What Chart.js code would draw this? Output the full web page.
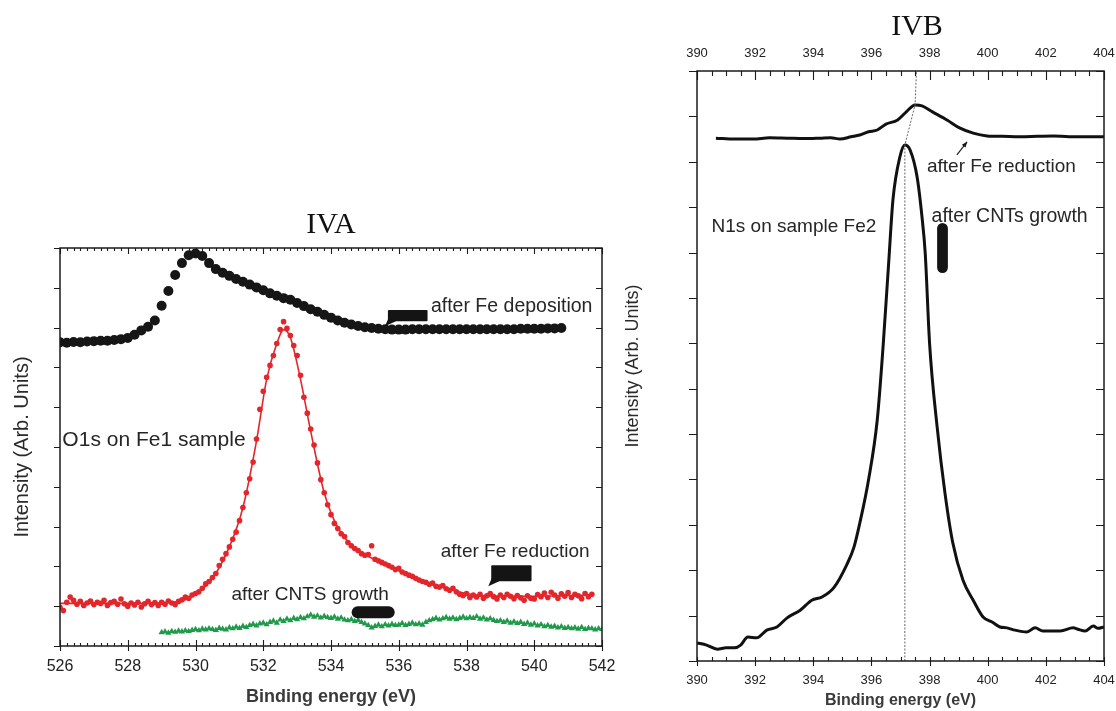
<!DOCTYPE html>
<html>
<head>
<meta charset="utf-8">
<script src="https://cdn.jsdelivr.net/npm/chart.js@4.4.1/dist/chart.umd.min.js"></script>
<style>
  html, body { margin: 0; padding: 0; background: #fff; }
  body { width: 1116px; height: 711px; position: relative; overflow: hidden; }
  .box { position: absolute; top: 0; height: 711px; }
  .ttl { position: absolute; font-family: "Liberation Serif", "Times New Roman", serif; font-size: 30px;
         color: #111; transform: translate(-50%, -50%); line-height: 1; }
</style>
</head>
<body>
<div class="box" style="left:0;width:620px"><canvas id="chartA"></canvas></div>
<div class="box" style="left:600px;width:516px"><canvas id="chartB"></canvas></div>
<div class="ttl" style="left:331px;top:223px">IVA</div>
<div class="ttl" style="left:917px;top:25px">IVB</div>
<script>
// ---------- IVA : O1s on Fe1 sample (energy grids start/step in eV) ----------
const depStart = 526.0, depStep = 0.2;
const afterFeDeposition = [
  7.63, 7.62, 7.64, 7.63, 7.65, 7.66, 7.67, 7.67, 7.69, 7.71,
  7.74, 7.82, 7.93, 8.02, 8.18, 8.55, 8.92, 9.32, 9.62, 9.82,
  9.86, 9.80, 9.62, 9.47, 9.38, 9.30, 9.22, 9.15, 9.08, 9.01,
  8.94, 8.86, 8.80, 8.74, 8.70, 8.62, 8.54, 8.46, 8.40, 8.32,
  8.25, 8.18, 8.12, 8.08, 8.04, 8.01, 7.99, 7.97, 7.96, 7.95,
  7.95, 7.95, 7.96, 7.96, 7.96, 7.96, 7.96, 7.96, 7.96, 7.96,
  7.96, 7.96, 7.96, 7.96, 7.96, 7.96, 7.96, 7.96, 7.97, 7.97,
  7.97, 7.97, 7.98, 7.98, 7.99
];

const redStart = 526.0, redStep = 0.1;
const afterFeReduction = [
  0.97, 0.89, 1.10, 1.23, 1.15, 1.05, 1.12, 1.02, 1.08, 1.13,
  1.04, 1.10, 1.07, 1.15, 1.02, 1.09, 1.12, 1.05, 1.18, 1.06,
  1.00, 1.08, 1.03, 1.10, 0.98, 1.06, 1.12, 1.04, 1.09, 1.02,
  1.10, 1.05, 1.13, 1.08, 1.04, 1.12, 1.16, 1.23, 1.20, 1.28,
  1.32, 1.36, 1.45, 1.56, 1.62, 1.72, 1.82, 2.02, 2.18, 2.32,
  2.49, 2.68, 2.86, 3.15, 3.48, 3.85, 4.20, 4.62, 5.20, 5.95,
  6.40, 6.75, 7.05, 7.30, 7.60, 7.95, 8.15, 7.98, 7.80, 7.55,
  7.30, 6.80, 6.25, 5.85, 5.45, 5.05, 4.60, 4.18, 3.85, 3.55,
  3.30, 3.08, 2.95, 2.82, 2.75, 2.60, 2.52, 2.45, 2.40, 2.32,
  2.28, 2.30, 2.52, 2.18, 2.14, 2.10, 2.06, 2.02, 1.98, 1.92,
  1.95, 1.86, 1.82, 1.78, 1.75, 1.70, 1.66, 1.62, 1.60, 1.55,
  1.58, 1.50, 1.48, 1.52, 1.44, 1.40, 1.45, 1.36, 1.30, 1.27,
  1.32, 1.22, 1.28, 1.23, 1.30, 1.20, 1.26, 1.32, 1.24, 1.18,
  1.28, 1.22, 1.30, 1.25, 1.19, 1.27, 1.21, 1.15, 1.26, 1.20,
  1.18, 1.29, 1.24, 1.33, 1.22, 1.35, 1.28, 1.20, 1.31, 1.25,
  1.34, 1.22, 1.30, 1.26, 1.19, 1.32, 1.24, 1.30
];

// fitted curve through the red points
const fitEnergy = [526.0, 528.0, 529.5, 530.0, 530.5, 531.0, 531.4, 531.8, 532.1, 532.4, 532.6, 532.8,
  533.1, 533.4, 533.8, 534.2, 534.8, 535.5, 536.5, 537.5, 538.5, 540.0, 541.7];
const fitIntensity = [1.07, 1.07, 1.12, 1.30, 1.70, 2.49, 3.48, 5.15, 6.70, 7.60, 7.95, 7.75,
  6.70, 5.40, 3.85, 2.98, 2.40, 2.10, 1.70, 1.42, 1.26, 1.25, 1.28];

const cntStart = 529.0, cntStep = 0.1;
const afterCntsGrowth = [
  0.34, 0.36, 0.33, 0.37, 0.35, 0.38, 0.36, 0.39, 0.37, 0.40,
  0.42, 0.39, 0.43, 0.41, 0.44, 0.42, 0.40, 0.45, 0.43, 0.41,
  0.46, 0.44, 0.48, 0.45, 0.50, 0.47, 0.52, 0.55, 0.51, 0.56,
  0.58, 0.54, 0.60, 0.63, 0.58, 0.66, 0.62, 0.68, 0.64, 0.70,
  0.67, 0.72, 0.69, 0.74, 0.78, 0.73, 0.76, 0.71, 0.75, 0.72,
  0.70, 0.73, 0.68, 0.71, 0.66, 0.64, 0.67, 0.62, 0.65, 0.60,
  0.56, 0.52, 0.46, 0.50, 0.53, 0.49, 0.54, 0.51, 0.55, 0.52,
  0.53, 0.57, 0.52, 0.55, 0.58, 0.54, 0.56, 0.53, 0.60, 0.64,
  0.67, 0.70, 0.66, 0.69, 0.72, 0.68, 0.71, 0.67, 0.70, 0.73,
  0.69, 0.72, 0.70, 0.74, 0.68, 0.71, 0.66, 0.69, 0.65, 0.62,
  0.64, 0.60, 0.63, 0.58, 0.61, 0.57, 0.60, 0.55, 0.58, 0.53,
  0.56, 0.51, 0.54, 0.49, 0.52, 0.48, 0.50, 0.46, 0.49, 0.45,
  0.47, 0.44, 0.46, 0.43, 0.47, 0.42, 0.45, 0.44, 0.41, 0.44,
  0.42
];

// ---------- IVB : N1s on sample Fe2 ----------
const n1sRedEnergy = [390.65, 391.3, 391.93, 392.5, 393.1, 393.7, 394.23, 394.6, 394.92, 395.3, 395.6, 395.9,
  396.2, 396.5, 396.9, 397.2, 397.5, 397.74, 398.1, 398.6, 399.05, 399.5, 399.98, 400.5, 401.1, 401.7,
  402.25, 402.8, 403.4, 404.0];
const n1sRedIntensity = [11.52, 11.50, 11.50, 11.53, 11.52, 11.51, 11.52, 11.53, 11.50, 11.55, 11.59, 11.66,
  11.70, 11.83, 11.92, 12.10, 12.25, 12.23, 12.10, 11.92, 11.74, 11.63, 11.57, 11.56, 11.55, 11.56,
  11.57, 11.55, 11.55, 11.55];

const n1sCntEnergy = [390.0, 390.33, 390.7, 391.0, 391.3, 391.5, 391.75, 392.05, 392.4, 392.75, 393.1, 393.55,
  393.95, 394.3, 394.7, 395.15, 395.4, 395.6, 395.9, 396.2, 396.4, 396.6, 396.74, 396.98, 397.15, 397.33,
  397.57, 397.74, 397.85, 398.0, 398.26, 398.53, 398.8, 399.15, 399.5, 399.84, 400.15, 400.42, 400.66,
  400.94, 401.35, 401.63, 401.9, 402.5, 402.94, 403.1, 403.35, 403.63, 403.8, 404.0];
const n1sCntIntensity = [0.40, 0.35, 0.26, 0.29, 0.29, 0.35, 0.53, 0.51, 0.68, 0.75, 0.95, 1.12,
  1.34, 1.41, 1.61, 2.12, 2.51, 3.04, 3.99, 5.31, 6.92, 8.84, 10.16, 11.11, 11.37, 11.26,
  10.67, 9.78, 8.99, 7.00, 5.16, 3.70, 2.60, 1.78, 1.34, 0.97, 0.86, 0.75, 0.73,
  0.68, 0.64, 0.73, 0.66, 0.66, 0.73, 0.70, 0.66, 0.77, 0.72, 0.75];

// guide line joining the two peak maxima
const guideEnergy = [397.15, 397.15, 397.5, 397.55];
const guideIntensity = [0, 11.37, 12.25, 13];

// ---------- annotations (text, energy, intensity, font size) ----------
const notesA = [
  ['after Fe deposition', 536.95, 8.53, 19.5],
  ['after Fe reduction', 537.24, 2.37, 19],
  ['after CNTS growth', 531.06, 1.28, 19],
  ['O1s on Fe1 sample', 526.07, 5.16, 21]
];
const notesB = [
  ['after Fe reduction', 397.91, 10.89, 19],
  ['after CNTs growth', 398.07, 9.79, 19.5],
  ['N1s on sample Fe2', 390.5, 9.57, 19]
];

const FONT = '"Liberation Sans", Arial, sans-serif';
Chart.defaults.font.family = FONT;
Chart.defaults.color = '#222';

const grid = (start, step, ys) => ys.map((y, i) => ({ x: +(start + i * step).toFixed(2), y: y }));
const pairs = (xs, ys) => xs.map((x, i) => ({ x: x, y: ys[i] }));

// fixed axis box size, no extra side padding for the end labels
const fixH = h => s => { s.height = h; s.paddingLeft = 0; s.paddingRight = 0; };
const fixW = w => s => { s.width = w; };

// frame + inward/outward ticks like the original plotting program
function frameTicks(cfg) {
  return {
    id: 'frameTicks',
    afterDraw(chart) {
      const { ctx, chartArea: a, scales: { x, y } } = chart;
      ctx.save();
      ctx.strokeStyle = '#1b1b1b';
      ctx.lineWidth = 1.5;
      ctx.strokeRect(a.left, a.top, a.right - a.left, a.bottom - a.top);
      ctx.lineWidth = 1.1;
      ctx.beginPath();
      const nx = Math.round((x.max - x.min) / cfg.xMinor);
      const per = Math.round(cfg.xMajor / cfg.xMinor);
      for (let i = 0; i <= nx; i++) {
        const px = Math.round(x.getPixelForValue(x.min + i * cfg.xMinor)) + 0.5;
        const major = i % per === 0;
        ctx.moveTo(px, a.bottom + (major ? cfg.bottomOut : 0));
        ctx.lineTo(px, a.bottom - (major ? cfg.bottomMajor : cfg.bottomMinor));
        ctx.moveTo(px, a.top);
        ctx.lineTo(px, a.top + (major ? cfg.topMajor : cfg.topMinor));
      }
      const ny = Math.round((y.max - y.min) / cfg.yStep);
      for (let j = 0; j <= ny; j++) {
        const py = Math.round(y.getPixelForValue(y.min + j * cfg.yStep)) + 0.5;
        ctx.moveTo(a.left - cfg.leftOut, py);
        ctx.lineTo(a.left, py);
        ctx.moveTo(a.right - cfg.rightIn, py);
        ctx.lineTo(a.right, py);
      }
      ctx.stroke();
      ctx.restore();
    }
  };
}

// text labels and the black pointer blobs
function notes(cfg) {
  return {
    id: 'notes',
    afterDatasetsDraw(chart) {
      const { ctx, scales: { x, y } } = chart;
      const X = v => x.getPixelForValue(v), Y = v => y.getPixelForValue(v);
      ctx.save();
      ctx.fillStyle = '#262626';
      ctx.textBaseline = 'middle';
      ctx.textAlign = 'left';
      cfg.labels.forEach(([t, ex, ey, size]) => {
        ctx.font = size + 'px ' + FONT;
        ctx.fillText(t, X(ex), Y(ey));
      });
      ctx.fillStyle = '#141414';
      cfg.blobs.forEach(([x0, x1, y0, y1, r, tail]) => {
        const l = X(x0), rt = X(x1), t = Y(y0), b = Y(y1);
        ctx.beginPath();
        ctx.roundRect(l, t, rt - l, b - t, r);
        ctx.fill();
        if (tail) {
          ctx.beginPath();
          ctx.moveTo(l + 1, b - 4);
          ctx.lineTo(l - 3, b + 5);
          ctx.lineTo(l + 8, b);
          ctx.closePath();
          ctx.fill();
        }
      });
      if (cfg.arrow) {
        const [e0, i0, e1, i1] = cfg.arrow;
        const x0 = X(e0), y0 = Y(i0), x1 = X(e1), y1 = Y(i1);
        ctx.strokeStyle = '#222';
        ctx.lineWidth = 1.2;
        ctx.beginPath();
        ctx.moveTo(x0, y0);
        ctx.lineTo(x1, y1);
        ctx.stroke();
        const ang = Math.atan2(y1 - y0, x1 - x0);
        ctx.beginPath();
        ctx.moveTo(x1, y1);
        ctx.lineTo(x1 - 6 * Math.cos(ang - 0.4), y1 - 6 * Math.sin(ang - 0.4));
        ctx.lineTo(x1 - 6 * Math.cos(ang + 0.4), y1 - 6 * Math.sin(ang + 0.4));
        ctx.closePath();
        ctx.fill();
      }
      ctx.restore();
    }
  };
}

const hidden = { display: false, drawTicks: false };

// ---------- Chart IVA ----------
new Chart(document.getElementById('chartA'), {
  type: 'scatter',
  data: {
    datasets: [
      { data: grid(cntStart, cntStep, afterCntsGrowth), pointStyle: 'triangle', pointRadius: 3.6,
        backgroundColor: '#1f9a4a', borderColor: '#1f9a4a', borderWidth: 0 },
      { data: grid(redStart, redStep, afterFeReduction), pointRadius: 2.8,
        backgroundColor: '#e3262b', borderWidth: 0 },
      { data: pairs(fitEnergy, fitIntensity), showLine: true, pointRadius: 0,
        borderColor: '#e3262b', borderWidth: 1.6, cubicInterpolationMode: 'monotone' },
      { data: grid(depStart, depStep, afterFeDeposition), pointRadius: 5,
        backgroundColor: '#161616', borderWidth: 0 }
    ]
  },
  options: {
    responsive: true, maintainAspectRatio: false, animation: false, events: [],
    layout: { padding: { top: 248, right: 18, left: 0, bottom: 0 } },
    plugins: { legend: { display: false }, tooltip: { enabled: false } },
    scales: {
      x: {
        type: 'linear', position: 'bottom', min: 526, max: 542,
        afterFit: fixH(65),
        ticks: { stepSize: 2, autoSkip: false, maxRotation: 0, padding: 11, color: '#222', font: { size: 16 } },
        grid: hidden, border: { display: false },
        title: { display: true, text: 'Binding energy (eV)', color: '#3a3a3a',
                 font: { size: 18, weight: 'bold' }, padding: { top: 0, bottom: 3 } }
      },
      y: {
        type: 'linear', min: 0, max: 10,
        afterFit: fixW(60),
        ticks: { display: false, stepSize: 1 },
        grid: hidden, border: { display: false },
        title: { display: true, text: 'Intensity (Arb. Units)', color: '#2a2a2a',
                 font: { size: 20 }, padding: { top: 10, bottom: 0 } }
      }
    }
  },
  plugins: [
    frameTicks({ xMinor: 0.2, xMajor: 2, yStep: 1, bottomOut: 5, bottomMajor: 6, bottomMinor: 3,
                 topMajor: 6, topMinor: 3, leftOut: 6, rightIn: 6 }),
    notes({ labels: notesA,
            blobs: [[535.68, 536.85, 8.44, 8.16, 1, true],
                    [538.73, 539.92, 2.03, 1.63, 1, true],
                    [534.61, 535.88, 1.0, 0.70, 6, false]] })
  ]
});

// ---------- Chart IVB ----------
new Chart(document.getElementById('chartB'), {
  type: 'scatter',
  data: {
    datasets: [
      { data: pairs(guideEnergy, guideIntensity), showLine: true, pointRadius: 0,
        borderColor: '#666', borderWidth: 1, borderDash: [2, 1.5] },
      { data: pairs(n1sRedEnergy, n1sRedIntensity), showLine: true, pointRadius: 0,
        borderColor: '#111', borderWidth: 3, cubicInterpolationMode: 'monotone' },
      { data: pairs(n1sCntEnergy, n1sCntIntensity), showLine: true, pointRadius: 0,
        borderColor: '#111', borderWidth: 3, cubicInterpolationMode: 'monotone' }
    ]
  },
  options: {
    responsive: true, maintainAspectRatio: false, animation: false, events: [],
    layout: { padding: { top: 0, right: 12, left: 0, bottom: 0 } },
    plugins: { legend: { display: false }, tooltip: { enabled: false } },
    scales: {
      x: {
        type: 'linear', position: 'bottom', min: 390, max: 404,
        afterFit: fixH(50),
        ticks: { stepSize: 2, autoSkip: false, maxRotation: 0, padding: 12, color: '#222', font: { size: 13 } },
        grid: hidden, border: { display: false },
        title: { display: true, text: 'Binding energy (eV)', color: '#3a3a3a',
                 font: { size: 16, weight: 'bold' }, padding: { top: 0, bottom: 1 } }
      },
      x2: {
        type: 'linear', position: 'top', min: 390, max: 404,
        afterFit: fixH(71),
        ticks: { stepSize: 2, autoSkip: false, maxRotation: 0, padding: 10, color: '#222', font: { size: 13 } },
        grid: hidden, border: { display: false }
      },
      y: {
        type: 'linear', min: 0, max: 13,
        afterFit: fixW(97),
        ticks: { display: false, stepSize: 1 },
        grid: hidden, border: { display: false },
        title: { display: true, text: 'Intensity (Arb. Units)', color: '#2a2a2a',
                 font: { size: 18 }, padding: { top: 22, bottom: 0 } }
      }
    }
  },
  plugins: [
    frameTicks({ xMinor: 0.5, xMajor: 2, yStep: 1, bottomOut: 5, bottomMajor: 4, bottomMinor: 4,
                 topMajor: 9, topMinor: 5, leftOut: 8, rightIn: 8 }),
    notes({ labels: notesB,
            blobs: [[398.26, 398.63, 9.65, 8.55, 6, false]],
            arrow: [398.94, 11.15, 399.29, 11.44] })
  ]
});
</script>
</body>
</html>
